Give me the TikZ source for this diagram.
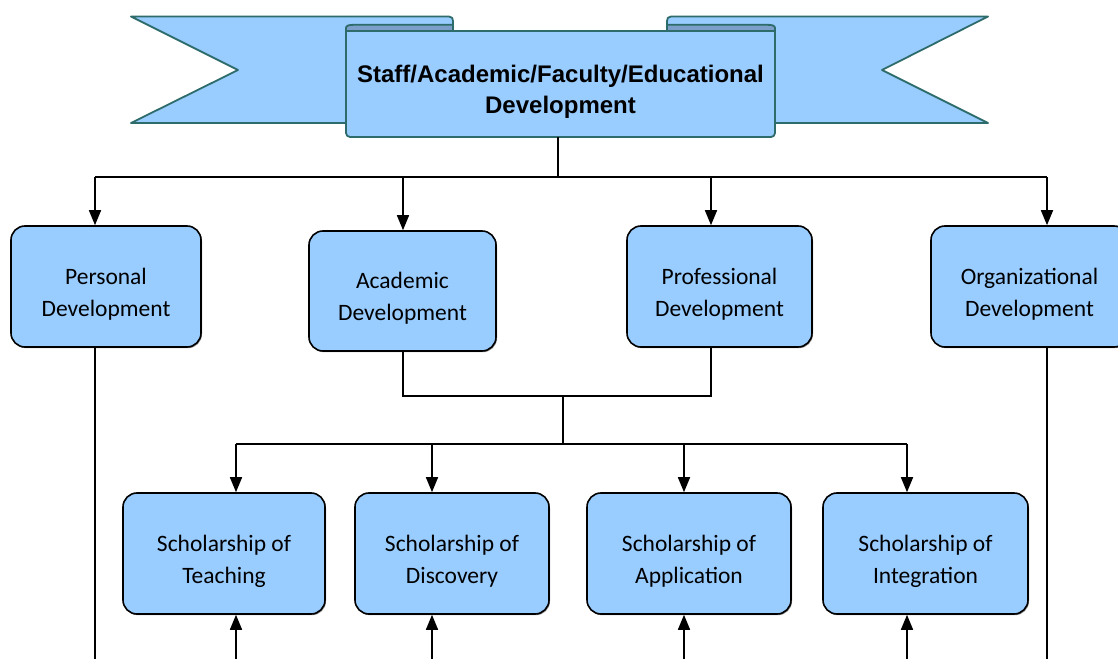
\documentclass[tikz,border=0pt]{standalone}
\usepackage{fontspec}
\setmainfont{Carlito}
\newfontfamily\bannerfont{Liberation Sans}
\usetikzlibrary{arrows.meta,shadows}
\definecolor{ribbonfill}{HTML}{99CCFF}
\definecolor{ribbonback}{HTML}{7C9FC9}
\definecolor{ribbonline}{HTML}{2E6B6B}
\definecolor{boxfill}{HTML}{99CCFF}
% tall strut on a first line, so two-line labels sit a little low in their boxes
\newcommand\toplinestrut[1]{\rule{0pt}{#1}}
\tikzset{
  ribbonpart/.style={fill=ribbonfill,draw=ribbonline,line width=1.8bp,line join=round},
  ribbonfold/.style={fill=ribbonback,draw=ribbonline,line width=1.8bp,line join=round},
  devbox/.style={draw=black,fill=boxfill,line width=1.6bp,rounded corners=14bp,
    inner sep=0pt,align=center,
    font=\fontsize{23.5bp}{32bp}\selectfont,
    drop shadow={shadow xshift=1bp,shadow yshift=-1.2bp,fill=black,opacity=0.45}},
  link/.style={draw=black,line width=1.6bp},
  arr/.style={link,-{Triangle[width=12bp,length=15bp]}}
}
\begin{document}
\begin{tikzpicture}[x=1bp,y=-1bp]
\useasboundingbox (0,0) rectangle (1118,659);

% ribbon banner: two tails behind the central scroll
\path[ribbonpart] (131,16.5) -- (449,16.5) .. controls (452,16.5) and (453,18.5) .. (453,21)
  -- (453,123) -- (131,123) -- (238,70) -- cycle;
\path[ribbonpart] (988,16.5) -- (671,16.5) .. controls (668,16.5) and (667,18.5) .. (667,21)
  -- (667,123) -- (988,123) -- (882,70) -- cycle;
\path[ribbonpart] (346,31) [rounded corners=4bp]-- (346,137) -- (775,137) [sharp corners]-- (775,31) -- cycle;
\node[inner sep=0pt,align=center,font=\bannerfont\bfseries\fontsize{24bp}{31bp}\selectfont]
  (banner) at (560.5,84) {\toplinestrut{32bp}Staff/Academic/Faculty/Educational\\Development};
\coordinate (scrollfoot) at (558,137);
% folded undersides of the ribbon
\path[ribbonfold] (346,31) -- (346,28) .. controls (346,25.5) and (349,24.8) .. (354,24.8)
  -- (453,24.8) -- (453,31) -- cycle;
\path[ribbonfold] (775,31) -- (775,28) .. controls (775,25.5) and (772,24.8) .. (767,24.8)
  -- (667,24.8) -- (667,31) -- cycle;

% first level
\node[devbox,minimum width=190bp,minimum height=121bp] (pers) at (106,286.5) {\toplinestrut{31bp}Personal\\Development};
\node[devbox,minimum width=187bp,minimum height=120bp] (acad) at (402.5,291) {\toplinestrut{31bp}Academic\\Development};
\node[devbox,minimum width=185bp,minimum height=121bp] (prof) at (719.5,286.5) {\toplinestrut{31bp}Professional\\Development};
\node[devbox,minimum width=197bp,minimum height=121bp] (orgd) at (1029.5,286.5) {\toplinestrut{31bp}Organizational\\Development};

% second level
\node[devbox,minimum width=202bp,minimum height=121bp] (teach) at (224,553.5) {\toplinestrut{32bp}Scholarship of\\Teaching};
\node[devbox,minimum width=194bp,minimum height=121bp] (disc) at (452,553.5) {\toplinestrut{32bp}Scholarship of\\Discovery};
\node[devbox,minimum width=204bp,minimum height=121bp] (appl) at (689,553.5) {\toplinestrut{32bp}Scholarship of\\Application};
\node[devbox,minimum width=205bp,minimum height=121bp] (integ) at (925.5,553.5) {\toplinestrut{32bp}Scholarship of\\Integration};

% top distribution bus
\coordinate (bus) at (558,177);
\coordinate (busL) at (95,177);
\coordinate (busA) at (403,177);
\coordinate (busP) at (711,177);
\coordinate (busR) at (1047,177);
\draw[link] (scrollfoot) -- (bus);
\draw[link] (busL) -- (busR);
\draw[arr] (busL) -- (busL |- pers.north);
\draw[arr] (busA) -- (busA |- acad.north);
\draw[arr] (busP) -- (busP |- prof.north);
\draw[arr] (busR) -- (busR |- orgd.north);

% academic and professional joined
\coordinate (midA) at (403,396);
\coordinate (midP) at (711,396);
\coordinate (midC) at (563,396);
\coordinate (bus2) at (563,444);
\draw[link] (acad.south -| midA) -- (midA) -- (midP) -- (midP |- prof.south);
\draw[link] (midC) -- (bus2);

% second distribution bus
\coordinate (b2T) at (236,444);
\coordinate (b2D) at (432,444);
\coordinate (b2A) at (684,444);
\coordinate (b2I) at (907,444);
\draw[link] (b2T) -- (b2I);
\draw[arr] (b2T) -- (b2T |- teach.north);
\draw[arr] (b2D) -- (b2D |- disc.north);
\draw[arr] (b2A) -- (b2A |- appl.north);
\draw[arr] (b2I) -- (b2I |- integ.north);

% lines running off the lower edge
\coordinate (inT) at (236,659);
\coordinate (inD) at (432,659);
\coordinate (inA) at (684,659);
\coordinate (inI) at (907,659);
\coordinate (outL) at (95,659);
\coordinate (outR) at (1047,659);
\draw[arr] (inT) -- (inT |- teach.south);
\draw[arr] (inD) -- (inD |- disc.south);
\draw[arr] (inA) -- (inA |- appl.south);
\draw[arr] (inI) -- (inI |- integ.south);
\draw[link] (outL |- pers.south) -- (outL);
\draw[link] (outR |- orgd.south) -- (outR);
\end{tikzpicture}
\end{document}
